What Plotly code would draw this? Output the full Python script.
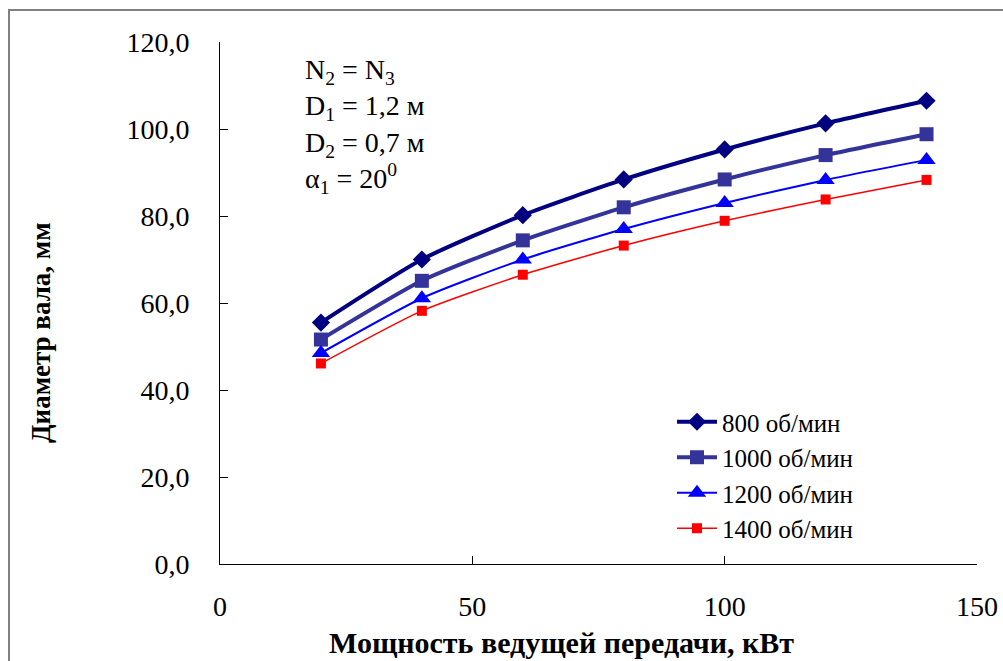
import plotly.graph_objects as go

# Мощность ведущей передачи, кВт
power_kw = [20, 40, 60, 80, 100, 120, 140]

# Диаметр вала, мм, для разных частот вращения
d_800 = [55.5, 70.0, 80.2, 88.4, 95.3, 101.3, 106.5]
d_1000 = [51.6, 65.1, 74.4, 82.0, 88.4, 94.0, 98.8]
d_1200 = [48.5, 61.1, 70.0, 77.0, 83.0, 88.3, 92.9]
d_1400 = [46.1, 58.2, 66.5, 73.2, 78.9, 83.8, 88.3]

series_names = ["800 об/мин", "1000 об/мин", "1200 об/мин", "1400 об/мин"]
y_ticks = [0, 20, 40, 60, 80, 100, 120]
y_tick_text = ["0,0", "20,0", "40,0", "60,0", "80,0", "100,0", "120,0"]
x_ticks = [0, 50, 100, 150]

note_lines = [
    "N<sub>2</sub> = N<sub>3</sub>",
    "D<sub>1</sub> = 1,2 м",
    "D<sub>2</sub> = 0,7 м",
    "α<sub>1</sub> = 20<sup>0</sup>",
]

serif = "Liberation Serif, Times New Roman, serif"

styles = [
    dict(color="#000080", width=4, symbol="diamond", size=14),
    dict(color="#333399", width=4, symbol="square", size=14),
    dict(color="#0000FF", width=2, symbol="triangle-up", size=16),
    dict(color="#FF0000", width=1.5, symbol="square", size=10),
]

fig = go.Figure()
for name, ys, st in zip(series_names, [d_800, d_1000, d_1200, d_1400], styles):
    fig.add_trace(go.Scatter(
        x=power_kw, y=ys, name=name, mode="lines+markers",
        line=dict(color=st["color"], width=st["width"], shape="spline", smoothing=0.6),
        marker=dict(symbol=st["symbol"], size=st["size"], color=st["color"],
                    line=dict(width=0)),
    ))

L, R, T, B = 220, 26, 42, 97
W, H = 1003, 661
pw, ph = W - L - R, H - T - B


def px_x(x):
    return (x - L) / pw


def px_y(y):
    return (H - B - y) / ph


fig.update_layout(
    width=W, height=H,
    margin=dict(l=L, r=R, t=T, b=B, autoexpand=False),
    paper_bgcolor="white", plot_bgcolor="white",
    font=dict(family=serif, color="black"),
    showlegend=True,
    legend=dict(
        x=px_x(672), y=px_y(399), xanchor="left", yanchor="top",
        font=dict(family=serif, size=25, color="black"),
        bgcolor="rgba(0,0,0,0)", itemwidth=40, tracegroupgap=0,
    ),
    xaxis=dict(
        range=[0, 150], tickvals=x_ticks, ticks="inside", ticklen=8,
        tickcolor="black", showline=True, linecolor="black", linewidth=1,
        showgrid=False, zeroline=False, automargin=False,
        tickfont=dict(family=serif, size=28, color="black"),
        ticklabelstandoff=17,
    ),
    yaxis=dict(
        range=[0, 120], tickvals=y_ticks, ticktext=y_tick_text,
        ticks="inside", ticklen=8, tickcolor="black",
        showline=True, linecolor="black", linewidth=1,
        showgrid=False, zeroline=False, automargin=False,
        tickfont=dict(family=serif, size=28, color="black"),
        ticklabelstandoff=24,
    ),
)

# подписи осей
fig.add_annotation(
    xref="paper", yref="paper", x=px_x(561), y=px_y(661),
    xanchor="center", yanchor="bottom", showarrow=False,
    text="<b>Мощность ведущей передачи, кВт</b>",
    font=dict(family=serif, size=30, color="black"),
)
fig.add_annotation(
    xref="paper", yref="paper", x=px_x(41), y=px_y(333),
    xanchor="center", yanchor="middle", showarrow=False, textangle=-90,
    text="<b>Диаметр вала, мм</b>",
    font=dict(family=serif, size=27, color="black"),
)

# исходные параметры
fig.add_annotation(
    xref="paper", yref="paper", x=px_x(303), y=px_y(52),
    xanchor="left", yanchor="top", align="left", showarrow=False,
    text="<br>".join(note_lines),
    font=dict(family=serif, size=28, color="black"),
)

# рамка области диаграммы
fig.add_shape(
    type="rect", xref="paper", yref="paper", layer="below",
    x0=px_x(9), x1=1.2, y0=-0.6, y1=px_y(10),
    line=dict(color="#808080", width=2), fillcolor="rgba(0,0,0,0)",
)

fig.write_html("out.html")
